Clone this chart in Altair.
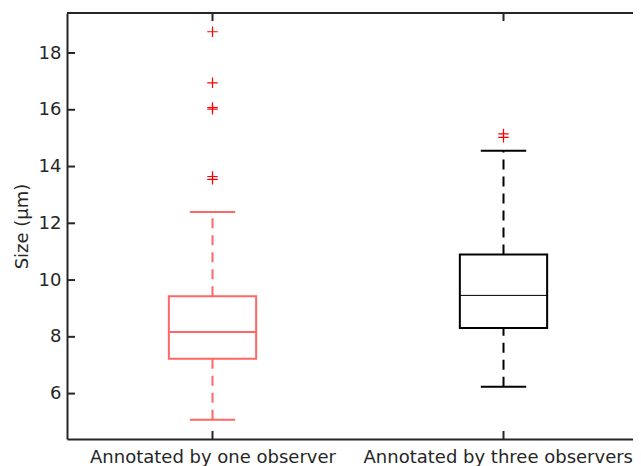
import altair as alt
import pandas as pd

# ---- data ----
groups = ["Annotated by one observer", "Annotated by three observers"]
positions = [1, 2]
q1 = [7.23, 8.31]
median = [8.17, 9.46]
q3 = [9.43, 10.90]
whisker_lo = [5.08, 6.24]
whisker_hi = [12.40, 14.56]
box_colors = ["#FF6666", "#000000"]
median_widths = [2, 1]

outlier_pos = [1, 1, 1, 1, 1, 1, 2, 2]
outlier_values = [18.75, 16.95, 16.08, 16.02, 13.65, 13.55, 15.15, 15.03]

y_ticks = [6, 8, 10, 12, 14, 16, 18]

# ---- layout ----
W, H = 566, 426
PX_PER_UNIT = 291
XDOM = [0.5, 0.5 + W / PX_PER_UNIT]
YDOM = [4.40, 19.41]
BOX_HALF = 0.15
CAP_HALF = 0.078
AX = "#262626"
FONT = "DejaVu Sans"

boxes = pd.DataFrame({
    "pos": positions, "group": groups, "q1": q1, "median": median, "q3": q3,
    "lo": whisker_lo, "hi": whisker_hi, "color": box_colors, "mw": median_widths,
})
boxes["box_l"] = boxes["pos"] - BOX_HALF
boxes["box_r"] = boxes["pos"] + BOX_HALF
boxes["cap_l"] = boxes["pos"] - CAP_HALF
boxes["cap_r"] = boxes["pos"] + CAP_HALF

outliers = pd.DataFrame({"pos": outlier_pos, "value": outlier_values})
yt = pd.DataFrame({"v": y_ticks})
xt = pd.DataFrame({"p": positions})

xs = alt.Scale(domain=XDOM, nice=False, zero=False)
ys = alt.Scale(domain=YDOM, nice=False, zero=False)

label_expr = " : ".join(
    f"datum.value == {p} ? '{g}'" for p, g in zip(positions, groups)
) + " : ''"

last = positions[-1]
x_axis = alt.Axis(
    values=positions, labelExpr=label_expr, ticks=False, grid=False,
    domainColor=AX, domainWidth=2, labelFont=FONT, labelFontSize=18,
    labelColor=AX, labelPadding=23, labelBaseline="alphabetic",
    labelFlush=False, labelOverlap=False, labelLimit=0,
    labelAlign={"condition": {"test": f"datum.value == {last}", "value": "right"},
                "value": "center"},
    labelOffset={"condition": {"test": f"datum.value == {last}", "value": 129},
                 "value": 0},
)
Y_TITLE = "Size (μm)"
y_axis = alt.Axis(
    values=y_ticks, ticks=False, grid=False, domainColor=AX, domainWidth=2,
    labelFont=FONT, labelFontSize=18, labelColor=AX, labelPadding=6,
    titleFont=FONT, titleFontSize=18, titleFontWeight="normal",
    titleColor=AX, titleX=-40, titleY=H / 2, titleAngle=270,
    titleBaseline="alphabetic", titleAlign="center",
)


def X(field):
    return alt.X(field, scale=xs, axis=x_axis, title=None)


def Y(field):
    return alt.Y(field, scale=ys, axis=y_axis, title=Y_TITLE)


stroke = alt.Stroke("color:N", scale=None, legend=None)

box = alt.Chart(boxes).mark_rect(fill="white", fillOpacity=0, strokeWidth=2).encode(
    x=X("box_l:Q"), x2="box_r:Q", y=Y("q1:Q"), y2="q3:Q", stroke=stroke,
)
med = alt.Chart(boxes).mark_rule().encode(
    x=X("box_l:Q"), x2="box_r:Q", y=Y("median:Q"), stroke=stroke,
    strokeWidth=alt.StrokeWidth("mw:Q", scale=None, legend=None),
)
wh_up = alt.Chart(boxes).mark_rule(strokeWidth=2, strokeDash=[10, 7]).encode(
    x=X("pos:Q"), y=Y("q3:Q"), y2="hi:Q", stroke=stroke,
)
wh_lo = alt.Chart(boxes).mark_rule(strokeWidth=2, strokeDash=[10, 7]).encode(
    x=X("pos:Q"), y=Y("lo:Q"), y2="q1:Q", stroke=stroke,
)
cap_up = alt.Chart(boxes).mark_rule(strokeWidth=2).encode(
    x=X("cap_l:Q"), x2="cap_r:Q", y=Y("hi:Q"), stroke=stroke,
)
cap_lo = alt.Chart(boxes).mark_rule(strokeWidth=2).encode(
    x=X("cap_l:Q"), x2="cap_r:Q", y=Y("lo:Q"), stroke=stroke,
)
outl = alt.Chart(outliers).mark_point(
    shape="M-1,0H1M0,-1V1", size=110, strokeWidth=1.2, color="#FF0000",
    filled=False, opacity=1,
).encode(x=X("pos:Q"), y=Y("value:Q"))

top_line = alt.Chart(xt).mark_rule(color=AX, strokeWidth=2).encode(
    x=alt.value(0), x2=alt.value(W), y=alt.value(0)
)
ytick_marks = alt.Chart(yt).mark_rule(color=AX, strokeWidth=2).encode(
    x=alt.value(0), x2=alt.value(8), y=Y("v:Q")
)
xtick_bottom = alt.Chart(xt).mark_rule(color=AX, strokeWidth=2).encode(
    x=X("p:Q"), y=alt.value(H - 8), y2=alt.value(H)
)
xtick_top = alt.Chart(xt).mark_rule(color=AX, strokeWidth=2).encode(
    x=X("p:Q"), y=alt.value(0), y2=alt.value(8)
)

chart = alt.layer(
    box, wh_up, wh_lo, cap_up, cap_lo, med, outl,
    top_line, ytick_marks, xtick_bottom, xtick_top,
).properties(
    width=W, height=H,
    autosize=alt.AutoSizeParams(type="none"),
    padding={"left": 59, "top": 5, "right": 0, "bottom": 27},
    background="white",
).configure_view(stroke=None)

chart.save("out.html", embed_options={"renderer": "svg", "actions": False})
